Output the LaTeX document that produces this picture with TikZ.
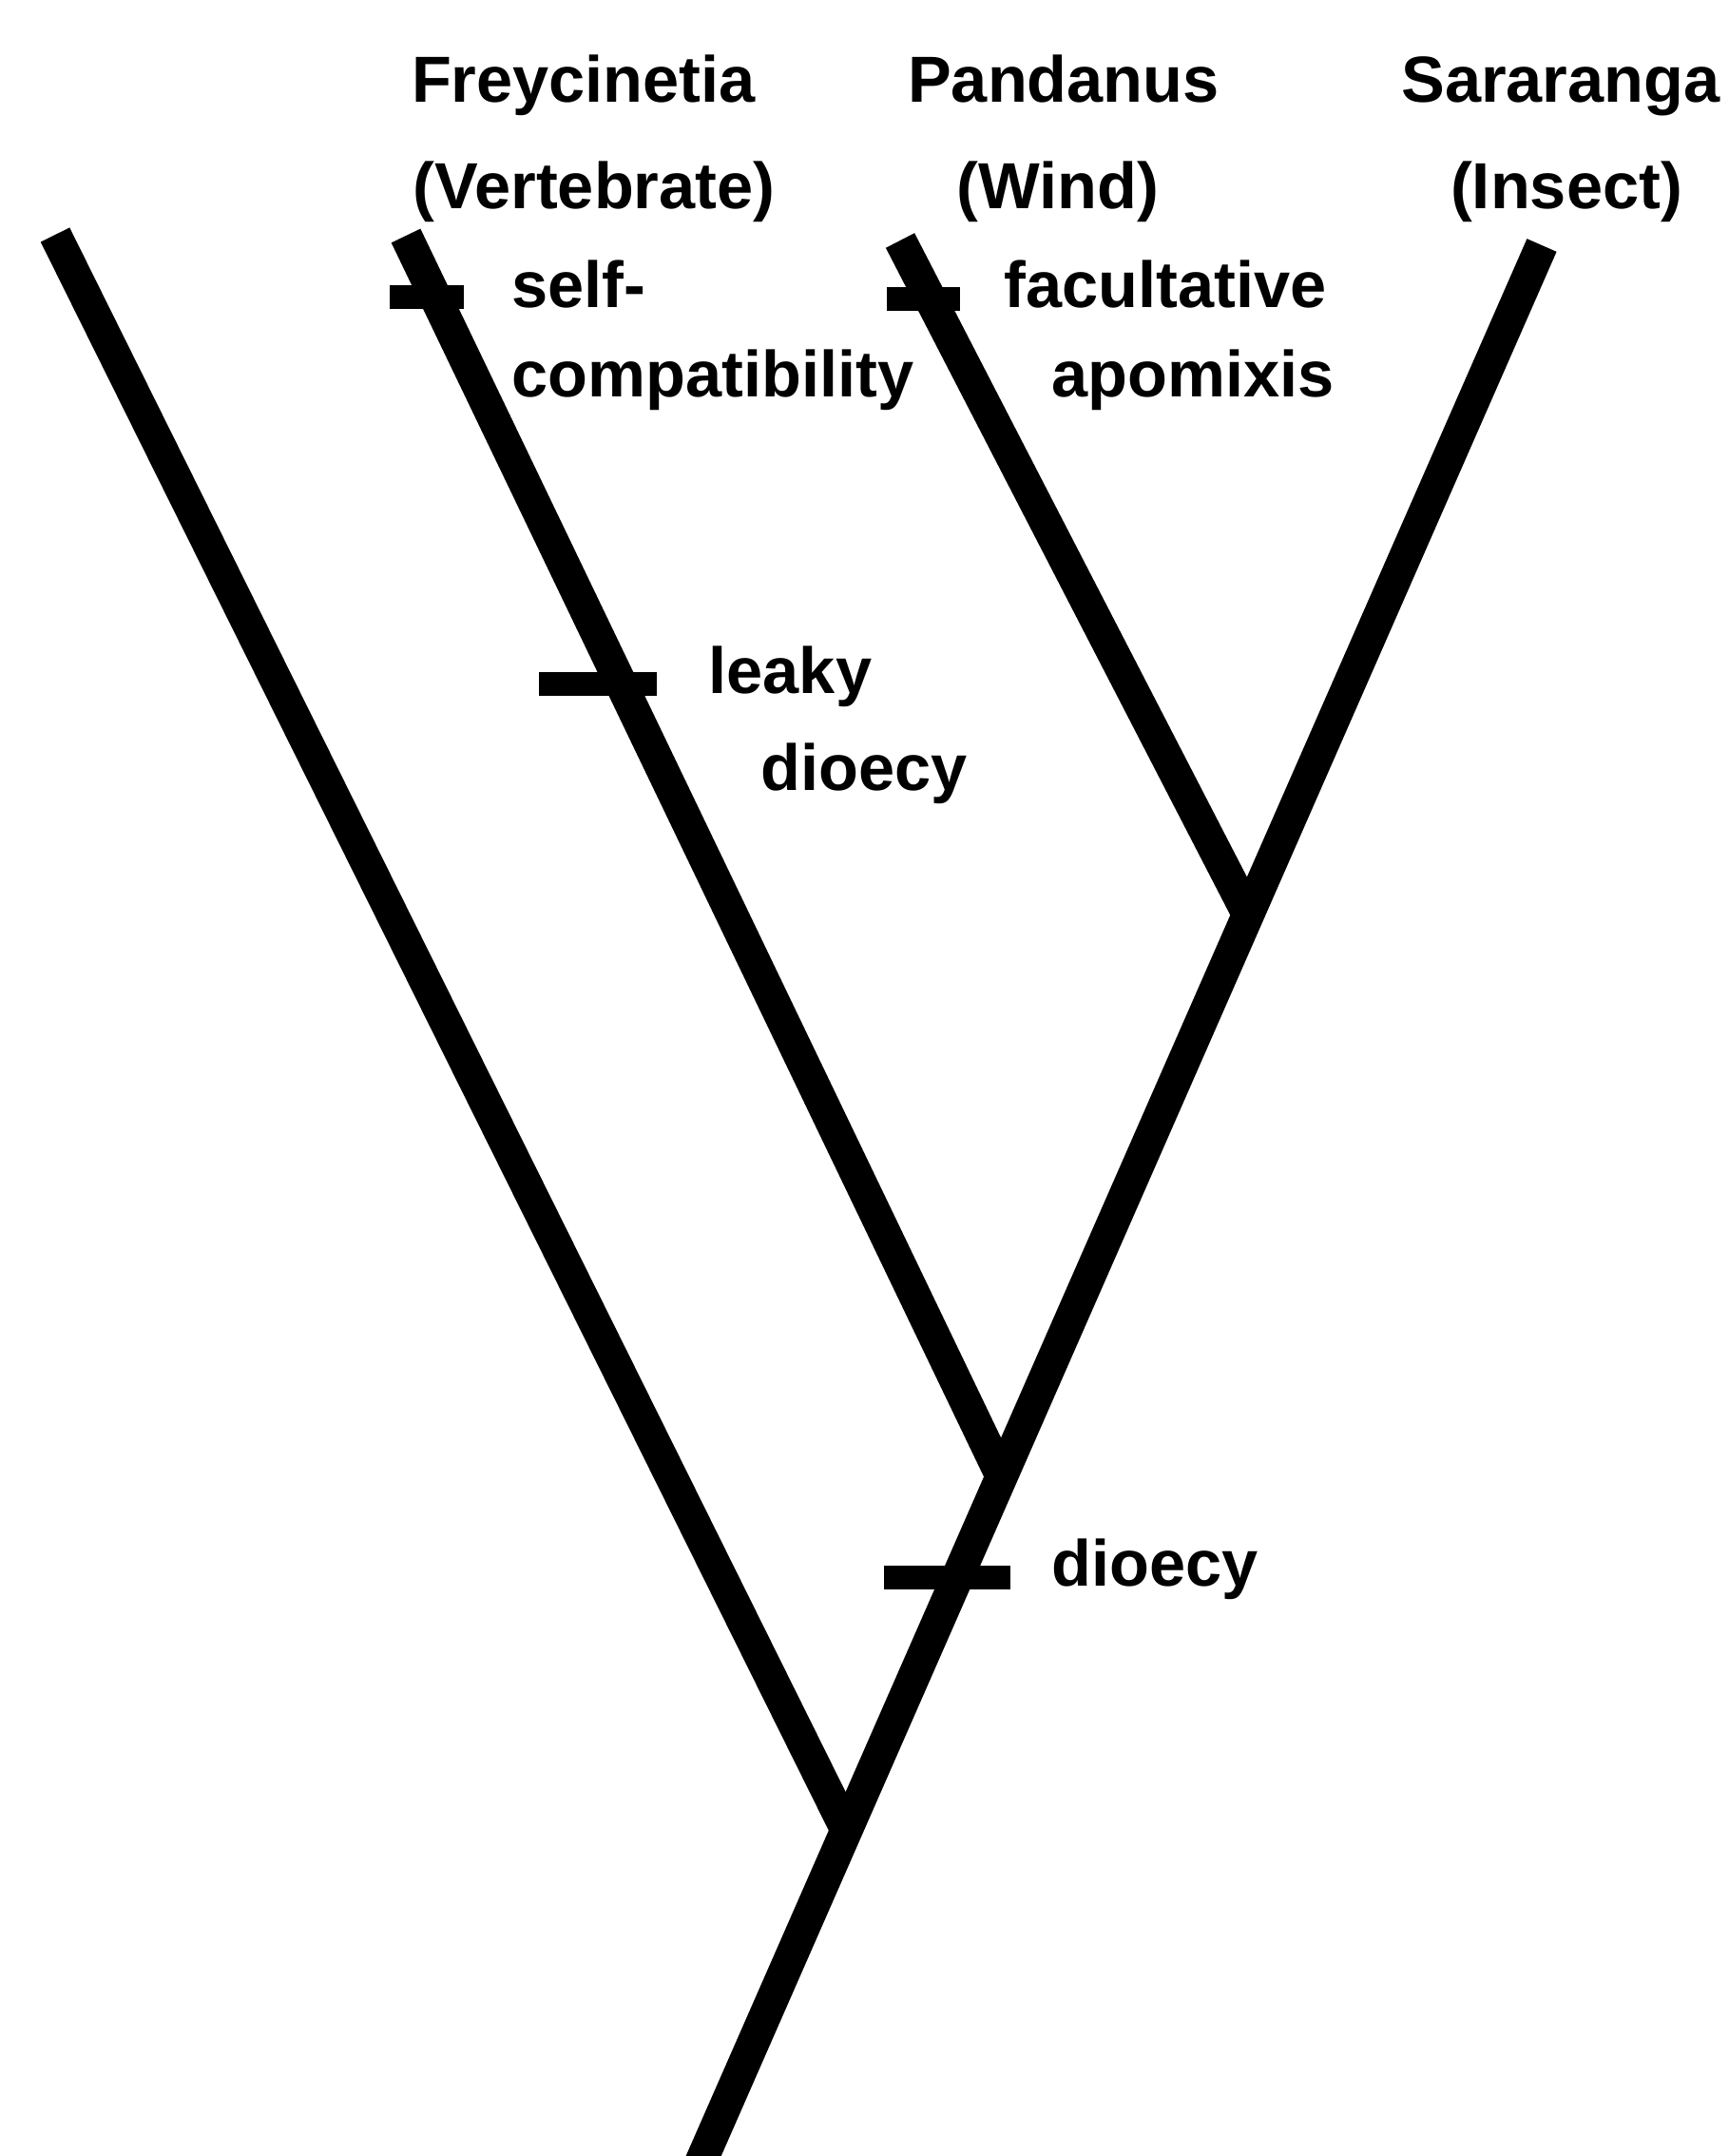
\documentclass[tikz,border=0pt]{standalone}
\usepackage{fontspec}
\setmainfont{Liberation Sans}
\usetikzlibrary{calc}

\begin{document}
\begin{tikzpicture}[
    every node/.style={font=\fontsize{19.5}{23}\selectfont\bfseries, inner sep=0pt},
    branch/.style={line width=0.34cm},
    trait/.style={line width=0.25cm},
    taxon/.style={anchor=base},
    note/.style={anchor=base west},
]
\useasboundingbox (0,0) rectangle (18.19,22.68);
% tips of the tree
\coordinate (out)  at (0.58,20.21);
\coordinate (frey) at (4.27,20.20);
\coordinate (pand) at (9.47,20.15);
\coordinate (sar)  at (16.22,20.10);
% branching points, all on the trunk
\coordinate (root) at (7.27,-0.30);
\coordinate (n1) at (8.905,3.43);
\coordinate (n2) at (10.537,7.15);
\coordinate (n3) at (13.131,13.06);
% the branches
\draw[branch] (root) -- (sar);
\draw[branch] (out) -- (n1);
\draw[branch] (frey) -- (n2);
\draw[branch] (pand) -- (n3);
% character changes
\draw[trait] (4.10,19.55) -- (4.88,19.55);
\draw[trait] (9.33,19.53) -- (10.10,19.53);
\draw[trait] (5.67,15.48) -- (6.91,15.48);
\draw[trait] (9.30,6.08) -- (10.63,6.08);
% genera and their pollinators
\node[taxon] (freyname) at (6.14,21.60) {Freycinetia};
\node[taxon] (freypoll) at (6.25,20.48) {(Vertebrate)};
\node[taxon] (pandname) at (11.19,21.60) {Pandanus};
\node[taxon] (pandpoll) at (11.13,20.48) {(Wind)};
\node[taxon] (sarname) at (16.42,21.60) {Sararanga};
\node[taxon] (sarpoll) at (16.48,20.48) {(Insect)};
% labels of the changes
\node[note] (selfa) at (5.38,19.44) {self-};
\node[note] (selfb) at (5.38,18.50) {compatibility};
\node[note] (faca) at (10.56,19.44) {facultative};
\node[note] (facb) at (11.06,18.50) {apomixis};
\node[note] (leakya) at (7.45,15.38) {leaky};
\node[note] (leakyb) at (8.00,14.36) {dioecy};
\node[note] (dioecy) at (11.06,5.99) {dioecy};
\end{tikzpicture}
\end{document}
